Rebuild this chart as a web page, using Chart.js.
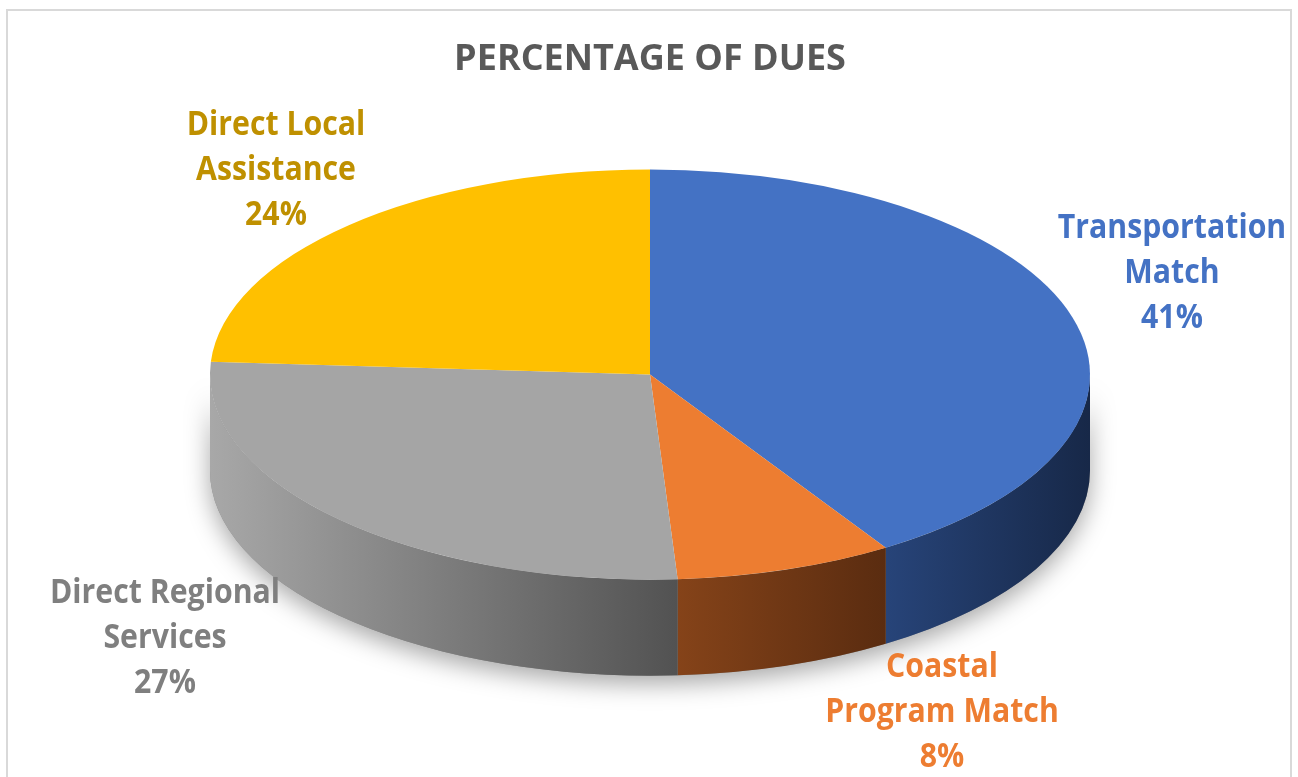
<!DOCTYPE html>
<html>
<head>
<meta charset="utf-8">
<title>Percentage of Dues</title>
<script src="https://cdn.jsdelivr.net/npm/chart.js@4.4.1/dist/chart.umd.min.js"></script>
<style>
  html, body { margin: 0; padding: 0; background: #fff; overflow: hidden; }
  #frame { position: absolute; left: 6px; top: 9px; width: 1282px; height: 800px; border: 2px solid #d9d9d9; }
  #chart { position: absolute; left: 0; top: 0; }
</style>
</head>
<body>
<div id="frame"></div>
<canvas id="chart" width="1298" height="777"></canvas>
<script>
// data
const categories = [["Transportation", "Match"], ["Coastal", "Program Match"], ["Direct Regional", "Services"], ["Direct Local", "Assistance"]];
const shares = [41, 8, 27, 24];
const topColors = ["#4472C4", "#ED7D31", "#A5A5A5", "#FFC000"];
const sideColors = [["#274479", "#172848"], ["#854319", "#5a2c10"], ["#a8a8a8", "#525252"], ["#c99700", "#8f6b00"]];
const labelColors = ["#4472C4", "#ED7D31", "#7F7F7F", "#BF9000"];

const tilt = 0.466;   // vertical squash of the pie
const depth = 96;     // thickness of the side wall

// fake 3D: draw the front wall, then squash the pie drawn by Chart.js
const pie3d = {
  id: "pie3d",
  beforeDatasetsDraw(chart) {
    const ctx = chart.ctx;
    const arcs = chart.getDatasetMeta(0).data;
    const { x: cx, y: cy, outerRadius: r } = arcs[0];
    const ry = r * tilt;

    // whole wall once, to cast the soft shadow
    ctx.save();
    ctx.shadowColor = "rgba(0,0,0,0.35)";
    ctx.shadowBlur = 24;
    ctx.shadowOffsetY = 8;
    ctx.beginPath();
    ctx.ellipse(cx, cy, r, ry, 0, 0, Math.PI);
    ctx.ellipse(cx, cy + depth, r, ry, 0, Math.PI, 0, true);
    ctx.closePath();
    ctx.fillStyle = "#888";
    ctx.fill();
    ctx.restore();

    arcs.forEach((arc, i) => {
      const a1 = Math.max(arc.startAngle, 0);
      const a2 = Math.min(arc.endAngle, Math.PI);
      if (a2 <= a1) return;
      const xl = cx + r * Math.cos(a2);
      const xr = cx + r * Math.cos(a1);
      const g = ctx.createLinearGradient(xl, 0, xr, 0);
      g.addColorStop(0, sideColors[i][0]);
      g.addColorStop(1, sideColors[i][1]);
      ctx.beginPath();
      ctx.ellipse(cx, cy, r, ry, 0, a1, a2);
      ctx.ellipse(cx, cy + depth, r, ry, 0, a2, a1, true);
      ctx.closePath();
      ctx.fillStyle = g;
      ctx.fill();
    });

    ctx.save();
    ctx.translate(cx, cy);
    ctx.scale(1, tilt);
    ctx.translate(-cx, -cy);
  },
  afterDatasetsDraw(chart) {
    chart.ctx.restore();
  },
  afterDraw(chart, args, opts) {
    const ctx = chart.ctx;
    ctx.save();
    ctx.textAlign = "center";
    ctx.textBaseline = "alphabetic";
    ctx.font = "bold 34px 'Open Sans'";
    chart.data.labels.forEach((lab, i) => {
      const [x, y] = opts.anchors[i];
      const lines = lab.concat([shares[i] + "%"]);
      ctx.fillStyle = labelColors[i];
      lines.forEach((t, k) => {
        ctx.save();
        ctx.translate(x, y + k * opts.lineGap);
        ctx.scale(opts.squeeze, 1);
        ctx.fillText(t, 0, 0);
        ctx.restore();
      });
    });
    ctx.restore();
  }
};

new Chart(document.getElementById("chart"), {
  type: "pie",
  data: {
    labels: categories,
    datasets: [{
      data: shares,
      backgroundColor: topColors,
      borderWidth: 0,
      hoverOffset: 0
    }]
  },
  options: {
    responsive: false,
    animation: false,
    events: [],
    radius: 440,
    layout: { padding: { left: 2, bottom: 109 } },
    plugins: {
      legend: { display: false },
      tooltip: { enabled: false },
      title: {
        display: true,
        text: "PERCENTAGE OF DUES",
        color: "#595959",
        font: { family: "'Open Sans'", size: 36, weight: "bold" },
        padding: { top: 38, bottom: 0 }
      },
      pie3d: {
        anchors: [[1172, 238], [942, 677], [165, 603], [276, 135]],
        lineGap: 45,
        squeeze: 0.89
      }
    }
  },
  plugins: [pie3d]
});
</script>
</body>
</html>
